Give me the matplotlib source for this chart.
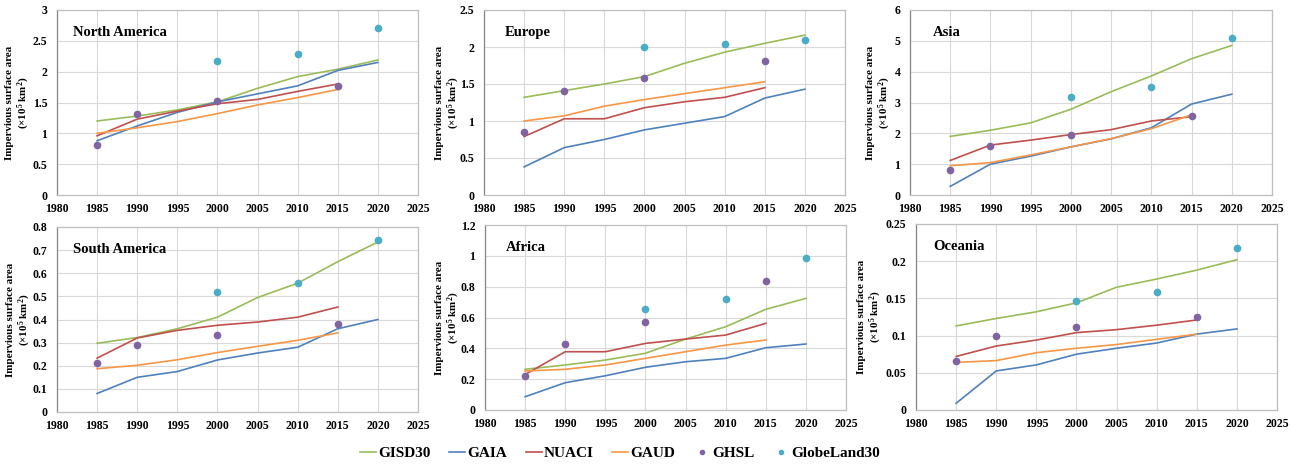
import matplotlib
matplotlib.use("Agg")
import matplotlib.pyplot as plt
from matplotlib.lines import Line2D

plt.rcParams['font.family'] = ['Liberation Serif', 'DejaVu Serif']
plt.rcParams['font.weight'] = 'bold'
plt.rcParams['mathtext.fontset'] = 'custom'
plt.rcParams['mathtext.rm'] = 'Liberation Serif:bold'
plt.rcParams['mathtext.it'] = 'Liberation Serif:bold'
plt.rcParams['mathtext.bf'] = 'Liberation Serif:bold'

years = [1985, 1990, 1995, 2000, 2005, 2010, 2015, 2020]
years15 = [1985, 1990, 1995, 2000, 2005, 2010, 2015]
ghsl_years = [1985, 1990, 2000, 2015]
gl30_years = [2000, 2010, 2020]

regions = ["North America", "Europe", "Asia", "South America", "Africa", "Oceania"]

gisd30 = {
    "North America": [1.20, 1.28, 1.38, 1.51, 1.73, 1.92, 2.04, 2.19],
    "Europe":        [1.32, 1.41, 1.50, 1.60, 1.78, 1.93, 2.05, 2.16],
    "Asia":          [1.90, 2.10, 2.34, 2.78, 3.35, 3.86, 4.42, 4.85],
    "South America": [0.297, 0.322, 0.360, 0.410, 0.495, 0.557, 0.650, 0.735],
    "Africa":        [0.264, 0.292, 0.324, 0.368, 0.460, 0.540, 0.653, 0.724],
    "Oceania":       [0.113, 0.123, 0.132, 0.144, 0.165, 0.176, 0.188, 0.202],
}
gaia = {
    "North America": [0.88, 1.12, 1.34, 1.51, 1.64, 1.77, 2.02, 2.15],
    "Europe":        [0.38, 0.64, 0.75, 0.88, 0.97, 1.06, 1.31, 1.43],
    "Asia":          [0.28, 1.00, 1.26, 1.56, 1.82, 2.18, 2.95, 3.27],
    "South America": [0.080, 0.150, 0.175, 0.225, 0.255, 0.280, 0.360, 0.400],
    "Africa":        [0.086, 0.177, 0.222, 0.277, 0.313, 0.335, 0.404, 0.428],
    "Oceania":       [0.009, 0.0525, 0.0606, 0.075, 0.083, 0.090, 0.102, 0.109],
}
nuaci = {
    "North America": [0.96, 1.23, 1.36, 1.48, 1.55, 1.68, 1.80],
    "Europe":        [0.79, 1.03, 1.03, 1.18, 1.26, 1.32, 1.45],
    "Asia":          [1.12, 1.62, 1.78, 1.96, 2.12, 2.40, 2.54],
    "South America": [0.233, 0.320, 0.353, 0.375, 0.389, 0.410, 0.454],
    "Africa":        [0.230, 0.378, 0.378, 0.432, 0.460, 0.486, 0.562],
    "Oceania":       [0.072, 0.086, 0.094, 0.104, 0.108, 0.114, 0.121],
}
gaud = {
    "North America": [1.00, 1.09, 1.19, 1.32, 1.46, 1.58, 1.71],
    "Europe":        [1.00, 1.07, 1.20, 1.29, 1.37, 1.45, 1.53],
    "Asia":          [0.95, 1.05, 1.30, 1.56, 1.83, 2.15, 2.60],
    "South America": [0.187, 0.202, 0.226, 0.257, 0.284, 0.310, 0.342],
    "Africa":        [0.253, 0.264, 0.292, 0.335, 0.378, 0.421, 0.454],
    "Oceania":       [0.064, 0.0664, 0.077, 0.083, 0.088, 0.095, 0.102],
}
ghsl = {
    "North America": [0.81, 1.31, 1.52, 1.76],
    "Europe":        [0.85, 1.41, 1.58, 1.81],
    "Asia":          [0.80, 1.58, 1.95, 2.56],
    "South America": [0.21, 0.29, 0.335, 0.38],
    "Africa":        [0.22, 0.43, 0.573, 0.838],
    "Oceania":       [0.066, 0.100, 0.111, 0.125],
}
globeland30 = {
    "North America": [2.17, 2.29, 2.71],
    "Europe":        [2.00, 2.04, 2.10],
    "Asia":          [3.18, 3.49, 5.10],
    "South America": [0.518, 0.556, 0.745],
    "Africa":        [0.653, 0.722, 0.987],
    "Oceania":       [0.147, 0.158, 0.218],
}

ymax = {"North America": 3, "Europe": 2.5, "Asia": 6,
        "South America": 0.8, "Africa": 1.2, "Oceania": 0.25}
ystep = {"North America": 0.5, "Europe": 0.5, "Asia": 1,
         "South America": 0.1, "Africa": 0.2, "Oceania": 0.05}
ytick_labels = {
    "North America": ["0", "0.5", "1", "1.5", "2", "2.5", "3"],
    "Europe": ["0", "0.5", "1", "1.5", "2", "2.5"],
    "Asia": ["0", "1", "2", "3", "4", "5", "6"],
    "South America": ["0", "0.1", "0.2", "0.3", "0.4", "0.5", "0.6", "0.7", "0.8"],
    "Africa": ["0", "0.2", "0.4", "0.6", "0.8", "1", "1.2"],
    "Oceania": ["0", "0.05", "0.1", "0.15", "0.2", "0.25"],
}
xticks = [1980, 1985, 1990, 1995, 2000, 2005, 2010, 2015, 2020, 2025]

C_GISD = "#9BBB59"
C_GAIA = "#4F81BD"
C_NUACI = "#C0504D"
C_GAUD = "#F79646"
C_GHSL = "#8064A2"
C_GL30 = "#4BACC6"

W, H = 1293, 466
fig = plt.figure(figsize=(W / 100, H / 100), dpi=100)

# axes rectangles in pixels: left, top, right, bottom
rects = {
    "North America": (57, 10, 418, 195),
    "Europe": (484, 10, 845, 195),
    "Asia": (910, 10, 1272, 195),
    "South America": (57, 227, 418, 412),
    "Africa": (485, 225, 846, 410),
    "Oceania": (916, 224, 1277, 410),
}
# right edge (in px) of the y label block
label_right = {"North America": 32, "Europe": 462, "Asia": 893,
               "South America": 33, "Africa": 462, "Oceania": 884}
title_x = {"North America": 0.044, "Europe": 0.058, "Asia": 0.064,
           "South America": 0.044, "Africa": 0.058, "Oceania": 0.047}

for reg in regions:
    l, t, r, b = rects[reg]
    ax = fig.add_axes([l / W, 1 - b / H, (r - l) / W, (b - t) / H])
    ax.plot(years, gisd30[reg], color=C_GISD, lw=1.2)
    ax.plot(years, gaia[reg], color=C_GAIA, lw=1.2)
    ax.plot(years15, nuaci[reg], color=C_NUACI, lw=1.2)
    ax.plot(years15, gaud[reg], color=C_GAUD, lw=1.2)
    ax.plot(ghsl_years, ghsl[reg], ls="none", marker="o", ms=4.5, color=C_GHSL)
    ax.plot(gl30_years, globeland30[reg], ls="none", marker="o", ms=4.5, color=C_GL30)

    ax.set_xlim(1980, 2025)
    ax.set_ylim(0, ymax[reg])
    ax.set_xticks(xticks)
    ax.set_xticklabels([str(x) for x in xticks], fontsize=8.5, fontweight="bold")
    n = len(ytick_labels[reg])
    ax.set_yticks([i * ystep[reg] for i in range(n)])
    ax.set_yticklabels(ytick_labels[reg], fontsize=8.5, fontweight="bold")
    ax.tick_params(axis="y", length=0, pad=7)
    ax.tick_params(axis="x", length=0, pad=6)
    ax.grid(True, color="#D9D9D9", lw=0.8)
    ax.set_axisbelow(True)
    for s in ["top", "right", "bottom"]:
        ax.spines[s].set_color("#BFBFBF")
        ax.spines[s].set_linewidth(0.9)
    ax.spines["left"].set_color("#868686")
    ax.spines["left"].set_linewidth(0.9)
    ax.set_ylabel("Impervious surface area\n(×10$^5$ km$^2$)", fontsize=7.9,
                  fontweight="bold", linespacing=1.15)
    ax.yaxis.set_label_coords((label_right[reg] - l) / (r - l), 0.5)
    ax.text(title_x[reg], 0.88, reg, transform=ax.transAxes, fontsize=10.5,
            fontweight="bold", va="center", ha="left")

handles = [
    Line2D([], [], color=C_GISD, lw=1.2),
    Line2D([], [], color=C_GAIA, lw=1.2),
    Line2D([], [], color=C_NUACI, lw=1.2),
    Line2D([], [], color=C_GAUD, lw=1.2),
    Line2D([], [], color=C_GHSL, ls="none", marker="o", ms=3),
    Line2D([], [], color=C_GL30, ls="none", marker="o", ms=3),
]
labels = ["GISD30", "GAIA", "NUACI", "GAUD", "GHSL", "GlobeLand30"]
fig.legend(handles, labels, loc="center", bbox_to_anchor=(620 / W, 1 - 453 / H),
           ncol=6, frameon=False, handlelength=1.05, handletextpad=0.15,
           columnspacing=1.2, prop={"family": "Liberation Serif", "weight": "bold", "size": 11})

fig.savefig("out.png", dpi=100)
